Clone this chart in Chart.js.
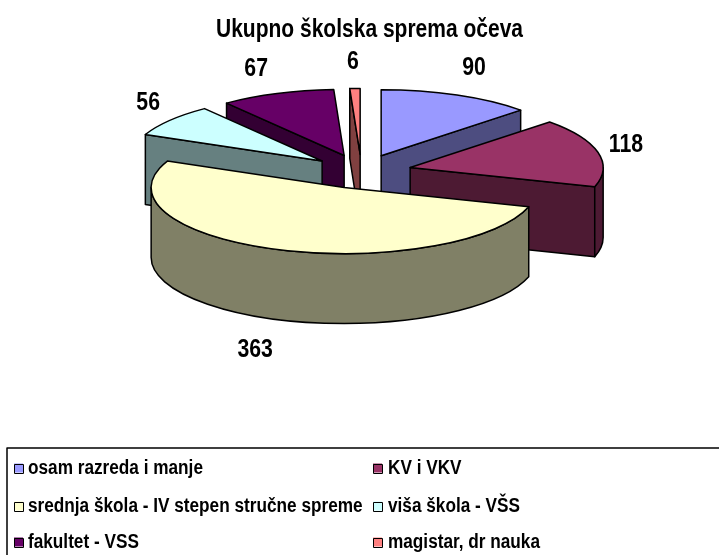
<!DOCTYPE html>
<html>
<head>
<meta charset="utf-8">
<style>html,body{margin:0;padding:0;background:#fff;overflow:hidden}#wrap{position:relative;width:719px;height:555px}</style>
<script src="https://cdn.jsdelivr.net/npm/chart.js@4/dist/chart.umd.min.js"></script>
</head>
<body>
<div id="wrap"><canvas id="c" width="719" height="555"></canvas></div>
<script>
const titleText = 'Ukupno školska sprema očeva';
const categories = ['osam razreda i manje','KV i VKV','srednja škola - IV stepen stručne spreme','viša škola - VŠS','fakultet - VSS','magistar, dr nauka'];
const values = [90,118,363,56,67,6];
const topColors = ['#9999FF','#993366','#FFFFCC','#CCFFFF','#660066','#FF8080'];
const sideColors = ['#4D4D80','#4D1A33','#808066','#668080','#330033','#804040'];
const labelNudges = [[17,-27],[28,-7],[-22,101],[-22,-17],[-21,-24],[-2,-26]];
const pieStyle = {cx:361.5, cy:171.5, tilt:0.342, depth:70, radius:193, explode:50, line:1.5};
const family = '"Liberation Sans", Arial, sans-serif';
const squeeze = 0.85;
const titleSqueeze = 0.84;
const legendStyle = {x:7, y:448, rows:[468,506,542], cols:[[14,28],[373,388]], box:9, font:'bold 20px '+family, squeeze:0.86};
const valueFont = 'bold 25px '+family;

function squeezedText(ctx,text,x,y,sx){
  ctx.save();ctx.translate(x,y);ctx.scale(sx,1);ctx.fillText(text,0,0);ctx.restore();
}

const pie3d = {
  id:'pie3d',
  afterLayout(chart){
    const tb = chart.titleBlock;
    if(tb && !tb._squeezed){
      const orig = tb.draw.bind(tb);
      tb.draw = function(){
        const ctx = chart.ctx, c = (tb.left+tb.right)/2;
        ctx.save();ctx.translate(c,0);ctx.scale(titleSqueeze,1);ctx.translate(-c,0);orig();ctx.restore();
      };
      tb._squeezed = true;
    }
  },
  beforeDatasetsDraw(chart){
    const ctx = chart.ctx, s = pieStyle, arcs = chart.getDatasetMeta(0).data;
    const geo = arcs.map((a,i)=>{
      const p = a.getProps(['startAngle','endAngle','outerRadius']);
      const mid = (p.startAngle+p.endAngle)/2, off = a.options.offset;
      const ax = s.cx+Math.cos(mid)*off, ay = s.cy+Math.sin(mid)*off*s.tilt;
      const pt = t=>[ax+p.outerRadius*Math.cos(t), ay+p.outerRadius*s.tilt*Math.sin(t)];
      return {i,mid,ax,ay,pt,r:p.outerRadius,a0:p.startAngle,a1:p.endAngle};
    });
    const paint = (fill)=>{ctx.fillStyle=fill;ctx.strokeStyle='#000';ctx.lineWidth=s.line;ctx.lineJoin='round';ctx.fill();ctx.stroke();};
    const face = (g,t,c)=>{
      const e = g.pt(t);
      ctx.beginPath();ctx.moveTo(g.ax,g.ay);ctx.lineTo(e[0],e[1]);ctx.lineTo(e[0],e[1]+s.depth);ctx.lineTo(g.ax,g.ay+s.depth);ctx.closePath();paint(c);
    };
    const two = 2*Math.PI;
    const order = geo.slice().sort((a,b)=>Math.sin(a.mid)-Math.sin(b.mid));
    order.forEach(g=>{
      const side = sideColors[g.i];
      if(Math.cos(g.a0)<-1e-6) face(g,g.a0,side);
      if(Math.cos(g.a1)>1e-6) face(g,g.a1,side);
      for(const shift of [0,two,-two]){
        const from = Math.max(g.a0+shift,0), to = Math.min(g.a1+shift,Math.PI);
        if(to>from){
          ctx.beginPath();
          ctx.ellipse(g.ax,g.ay,g.r,g.r*s.tilt,0,from,to);
          ctx.ellipse(g.ax,g.ay+s.depth,g.r,g.r*s.tilt,0,to,from,true);
          ctx.closePath();paint(side);
        }
      }
      ctx.beginPath();ctx.moveTo(g.ax,g.ay);
      ctx.ellipse(g.ax,g.ay,g.r,g.r*s.tilt,0,g.a0,g.a1);
      ctx.closePath();paint(topColors[g.i]);
    });
    ctx.fillStyle='#000';ctx.font=valueFont;ctx.textAlign='center';ctx.textBaseline='middle';
    geo.forEach(g=>{
      const b = g.pt(g.mid), n = labelNudges[g.i];
      squeezedText(ctx,String(values[g.i]), b[0]+n[0], b[1]+n[1], squeeze);
    });
    const L = legendStyle;
    ctx.strokeStyle='#000';ctx.lineWidth=1.5;
    ctx.beginPath();ctx.moveTo(L.x,chart.height+5);ctx.lineTo(L.x,L.y);ctx.lineTo(chart.width+5,L.y);ctx.stroke();
    ctx.font=L.font;ctx.textAlign='left';
    categories.forEach((name,i)=>{
      const col=L.cols[i%2], y=L.rows[Math.floor(i/2)];
      ctx.fillStyle=topColors[i];ctx.strokeStyle='#000';ctx.lineWidth=1;
      ctx.fillRect(col[0],y-L.box/2,L.box,L.box);ctx.strokeRect(col[0]+.5,Math.round(y-L.box/2)+.5,L.box,L.box);
      ctx.fillStyle='#000';squeezedText(ctx,name,col[1],y,L.squeeze);
    });
    return false;
  }
};

new Chart(document.getElementById('c'),{
  type:'pie',
  data:{labels:categories,datasets:[{data:values,backgroundColor:topColors,offset:pieStyle.explode}]},
  options:{
    responsive:false,animation:false,events:[],
    radius:pieStyle.radius,
    layout:{padding:{left:20,right:0,top:0,bottom:0}},
    plugins:{
      legend:{display:false},tooltip:{enabled:false},
      title:{display:true,text:titleText,color:'#000',align:'center',
        font:{family:family,size:25,weight:'bold'},
        padding:{top:15,bottom:10}}
    }
  },
  plugins:[pie3d]
});
</script>
</body>
</html>
